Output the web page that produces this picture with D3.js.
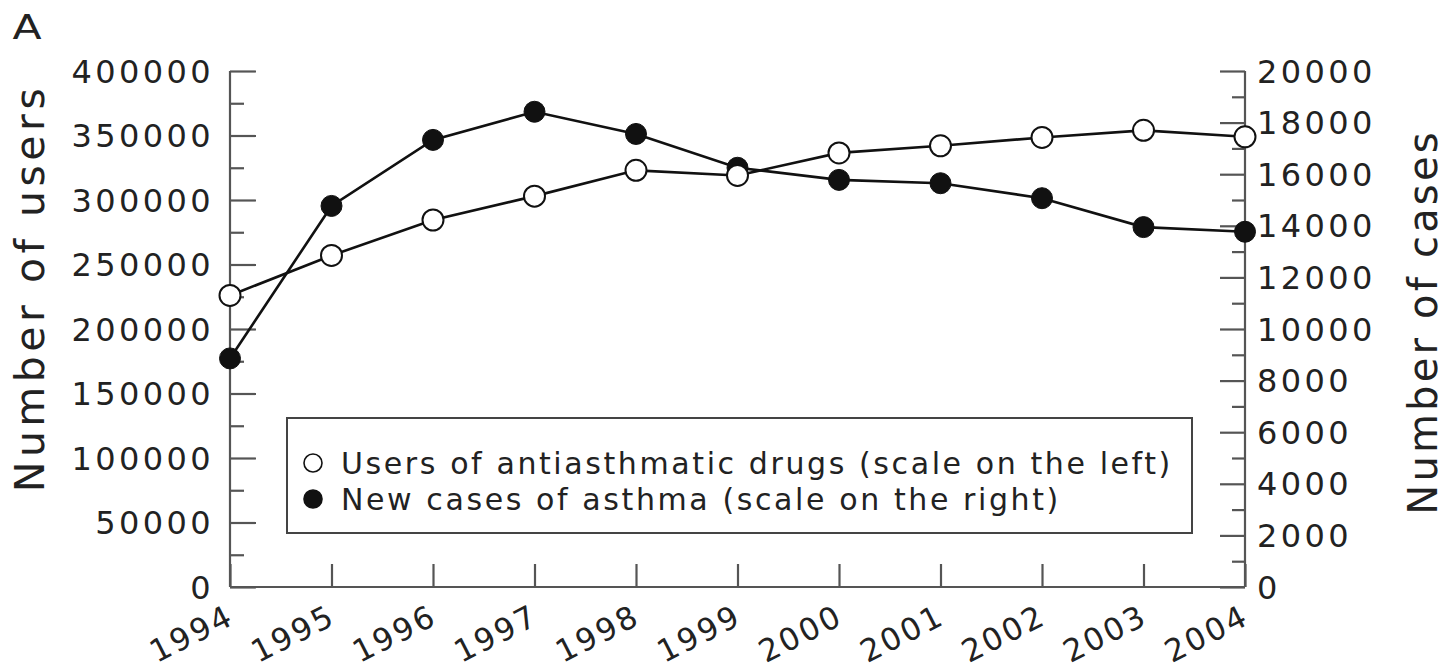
<!DOCTYPE html>
<html>
<head>
<meta charset="utf-8">
<script src="https://cdn.jsdelivr.net/npm/d3@7"></script>
<style>
  body { margin: 0; background: #fff; }
  text { font-family: "DejaVu Sans", sans-serif; fill: #222; }
</style>
</head>
<body>
<svg width="1446" height="669"></svg>
<script>
const svg = d3.select("svg");

// data
const years = [1994, 1995, 1996, 1997, 1998, 1999, 2000, 2001, 2002, 2003, 2004];
const users = [226000, 257000, 284500, 303000, 323000, 319000, 336500, 342000, 348500, 354000, 349000];
const cases = [8860, 14770, 17330, 18420, 17560, 16250, 15780, 15650, 15070, 13950, 13770];
const leftTicks = [0, 50000, 100000, 150000, 200000, 250000, 300000, 350000, 400000];
const rightTicks = [0, 2000, 4000, 6000, 8000, 10000, 12000, 14000, 16000, 18000, 20000];
const legendLabels = [
  "Users of antiasthmatic drugs (scale on the left)",
  "New cases of asthma (scale on the right)"
];

const plotL = 230, plotR = 1245, plotT = 71, plotB = 587;

const x = d3.scaleLinear().domain([1994, 2004]).range([plotL, plotR]);
const yL = d3.scaleLinear().domain([0, 400000]).range([plotB, plotT]);
const yR = d3.scaleLinear().domain([0, 20000]).range([plotB, plotT]);

const axisColor = "#555";
const g = svg.append("g");

// left axis: major ticks inward, minor between
g.append("g")
  .attr("transform", `translate(${plotL},0)`)
  .call(d3.axisRight(yL).tickValues(d3.range(25000, 400000, 50000)).tickSize(14).tickFormat(""))
  .call(a => a.select(".domain").remove());
const axL = g.append("g")
  .attr("transform", `translate(${plotL},0)`)
  .call(d3.axisRight(yL).tickValues(leftTicks).tickSize(26).tickFormat(""));
axL.select(".domain").attr("d", `M0,${plotT}V${plotB}`);
g.selectAll(".leftlab").data(leftTicks).join("text")
  .attr("x", plotL - 16).attr("y", d => yL(d)).attr("dy", "0.36em")
  .attr("text-anchor", "end").attr("font-size", 32).attr("letter-spacing", 3.4)
  .text(d => d);

// right axis
g.append("g")
  .attr("transform", `translate(${plotR},0)`)
  .call(d3.axisLeft(yR).tickValues(d3.range(1000, 20000, 2000)).tickSize(13).tickFormat(""))
  .call(a => a.select(".domain").remove());
const axR = g.append("g")
  .attr("transform", `translate(${plotR},0)`)
  .call(d3.axisLeft(yR).tickValues(rightTicks).tickSize(25).tickFormat(""));
axR.select(".domain").attr("d", `M0,${plotT}V${plotB}`);
g.selectAll(".rightlab").data(rightTicks).join("text")
  .attr("x", plotR + 12).attr("y", d => yR(d)).attr("dy", "0.36em")
  .attr("text-anchor", "start").attr("font-size", 32).attr("letter-spacing", 3.4)
  .text(d => d);

// bottom axis, ticks pointing up
const axB = g.append("g")
  .attr("transform", `translate(0,${plotB})`)
  .call(d3.axisTop(x).tickValues(years).tickSize(23).tickFormat(""));
axB.select(".domain").attr("d", `M${plotL},0H${plotR}`);
g.selectAll(".xlab").data(years).join("text")
  .attr("transform", d => `translate(${x(d) + 6},${plotB + 36}) rotate(-27)`)
  .attr("text-anchor", "end")
  .attr("font-size", 31).attr("letter-spacing", 2.5)
  .text(d => d);

g.selectAll(".tick line").attr("stroke", axisColor).attr("stroke-width", 2.2);
g.selectAll(".domain").attr("stroke", axisColor).attr("stroke-width", 2.2).attr("fill", "none");

// axis titles
svg.append("text")
  .attr("transform", `translate(44,288) rotate(-90)`)
  .attr("text-anchor", "middle").attr("font-size", 41).attr("letter-spacing", 4.5)
  .text("Number of users");
svg.append("text")
  .attr("transform", `translate(1437,322) rotate(-90)`)
  .attr("text-anchor", "middle").attr("font-size", 40).attr("letter-spacing", 3.2)
  .text("Number of cases");

svg.append("text").attr("x", 10).attr("y", 39).attr("font-size", 34)
  .attr("transform", "scale(1.25,1)").text("A");

// legend
const lg = svg.append("g");
lg.append("rect")
  .attr("x", 287).attr("y", 418).attr("width", 905).attr("height", 115)
  .attr("fill", "#fff").attr("stroke", "#444").attr("stroke-width", 2);
lg.selectAll("circle").data(legendLabels).join("circle")
  .attr("cx", 313).attr("cy", (d, i) => 463 + i * 36).attr("r", 9)
  .attr("fill", (d, i) => i ? "#111" : "#fff")
  .attr("stroke", "#111").attr("stroke-width", 1.6);
lg.selectAll("text").data(legendLabels).join("text")
  .attr("x", 341).attr("y", (d, i) => 463 + i * 36).attr("dy", "0.36em")
  .attr("font-size", 30).attr("letter-spacing", 2.6)
  .text(d => d);

// lines
const lineL = d3.line().x((d, i) => x(years[i])).y(d => yL(d));
const lineR = d3.line().x((d, i) => x(years[i])).y(d => yR(d));

svg.append("path").attr("d", lineR(cases))
  .attr("fill", "none").attr("stroke", "#111").attr("stroke-width", 2.6);
svg.selectAll(".pc").data(cases).join("circle")
  .attr("cx", (d, i) => x(years[i])).attr("cy", d => yR(d)).attr("r", 10.5)
  .attr("fill", "#111").attr("stroke", "#111").attr("stroke-width", 1);

svg.append("path").attr("d", lineL(users))
  .attr("fill", "none").attr("stroke", "#111").attr("stroke-width", 2.6);
svg.selectAll(".pu").data(users).join("circle")
  .attr("cx", (d, i) => x(years[i])).attr("cy", d => yL(d)).attr("r", 10.5)
  .attr("fill", "#fff").attr("stroke", "#111").attr("stroke-width", 2);
</script>
</body>
</html>
